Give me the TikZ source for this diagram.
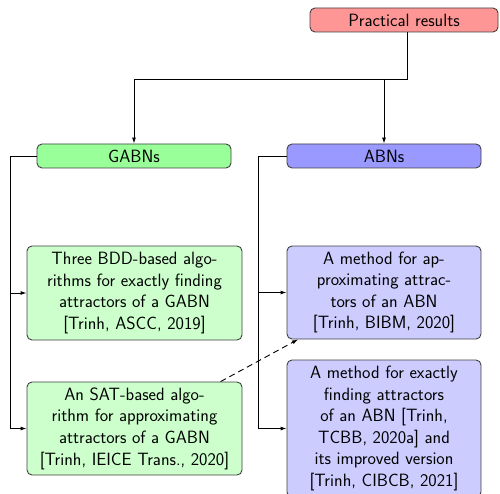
\documentclass[tikz,border=0pt]{standalone}
\usetikzlibrary{arrows.meta}
\definecolor{rootfill}{RGB}{255,150,150}
\definecolor{gfill}{RGB}{153,255,153}
\definecolor{afill}{RGB}{153,153,255}
\definecolor{glight}{RGB}{204,255,204}
\definecolor{alight}{RGB}{204,204,255}
\tikzset{
  box/.style={draw=black!75, line width=0.9pt, rounded corners=5pt, align=center,
    inner sep=0pt, font=\sffamily\fontsize{17.8}{21.6}\selectfont},
  arr/.style={line width=0.9pt, -{Latex[length=6pt,width=4pt]}},
}
\begin{document}
\begin{tikzpicture}[x=1pt,y=-1pt]
\useasboundingbox (0,0) rectangle (500,494);
\clip (0,0) rectangle (500,494);
\node[box, fill=rootfill, minimum width=188pt, minimum height=24pt] (root) at (404,20) {Practical results};
\node[box, fill=gfill, minimum width=194pt, minimum height=24pt] (gabn) at (134,156) {GABNs};
\node[box, fill=afill, minimum width=194pt, minimum height=24pt] (abn) at (384,156) {ABNs};
\node[box, fill=glight, minimum width=215pt, minimum height=94pt] (bdd) at (134.5,293)
  {Three BDD-based algo-\\rithms for exactly finding\\attractors of a GABN\\{[}Trinh, ASCC, 2019{]}};
\node[box, fill=glight, minimum width=215pt, minimum height=93pt] (sat) at (134.5,428.5)
  {An SAT-based algo-\\rithm for approximating\\attractors of a GABN\\{[}Trinh, IEICE Trans., 2020{]}};
\node[box, fill=alight, minimum width=194pt, minimum height=93pt] (bibm) at (384,292.5)
  {A method for ap-\\proximating attrac-\\tors of an ABN\\{[}Trinh, BIBM, 2020{]}};
\node[box, fill=alight, minimum width=194pt, minimum height=137pt] (tcbb) at (384,428.5)
  {A method for exactly\\finding attractors\\of an ABN {[}Trinh,\\TCBB, 2020a{]} and\\its improved version\\{[}Trinh, CIBCB, 2021{]}};
\coordinate (j) at (407,79);
\draw[arr] (root.south -| j) -- (j) -| (gabn.north);
\draw[arr] (j) -| (abn.north);
\draw[arr] (gabn.west) -- ++(-26,0) |- (bdd.west);
\draw[arr] (gabn.west) -- ++(-26,0) |- (sat.west);
\draw[arr] (abn.west) -- ++(-28,0) |- (bibm.west);
\draw[arr] (abn.west) -- ++(-28,0) |- (tcbb.west);
\draw[arr, dash pattern=on 6pt off 4pt] (sat) -- (bibm);
\end{tikzpicture}
\end{document}
